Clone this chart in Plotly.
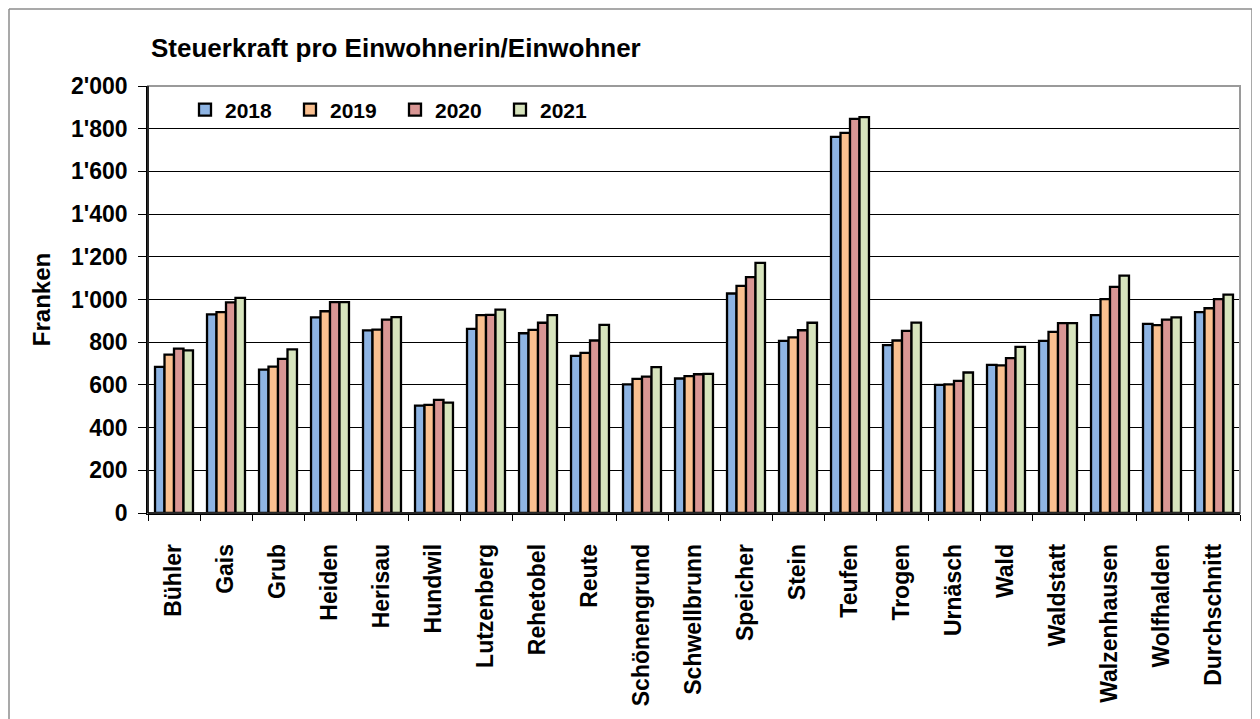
import plotly.graph_objects as go

gemeinden = ["Bühler", "Gais", "Grub", "Heiden", "Herisau", "Hundwil", "Lutzenberg",
             "Rehetobel", "Reute", "Schönengrund", "Schwellbrunn", "Speicher", "Stein",
             "Teufen", "Trogen", "Urnäsch", "Wald", "Waldstatt", "Walzenhausen",
             "Wolfhalden", "Durchschnitt"]

v2018 = [684, 930, 672, 916, 855, 503, 862, 842, 736, 602, 630, 1028, 806, 1762, 786, 600, 694, 806, 927, 886, 941]
v2019 = [742, 941, 686, 945, 859, 506, 927, 858, 750, 628, 641, 1064, 823, 1780, 808, 602, 691, 848, 1002, 880, 959]
v2020 = [770, 987, 722, 988, 906, 530, 928, 891, 808, 639, 650, 1105, 856, 1846, 853, 619, 725, 889, 1059, 906, 1002]
v2021 = [762, 1008, 766, 988, 917, 517, 953, 927, 881, 683, 652, 1172, 891, 1854, 892, 658, 778, 889, 1112, 916, 1023]

jahre = ["2018", "2019", "2020", "2021"]
farben = ["#8EB4E3", "#FAC090", "#D99694", "#D7E4BD"]
serien = [v2018, v2019, v2020, v2021]

y_ticks = [0, 200, 400, 600, 800, 1000, 1200, 1400, 1600, 1800, 2000]

FONT = "Liberation Sans, Arial, sans-serif"

fig = go.Figure()
for jahr, farbe, werte in zip(jahre, farben, serien):
    fig.add_trace(go.Bar(
        x=gemeinden, y=werte, name=jahr,
        marker=dict(color=farbe, line=dict(color="black", width=2.3)),
    ))

# page body has an 8px margin: work in window pixels and subtract it
OFF = 8
W, H = 1250, 711
L = 148 - OFF
T = 86 - OFF
R = W - (1240 - OFF)
B = H - (513 - OFF)
pw = W - L - R
ph = H - T - B

def px_x(p):
    return (p - OFF - L) / pw

def px_y(p):
    return (H - B - (p - OFF)) / ph

fig.update_layout(
    width=W, height=H,
    margin=dict(l=L, r=R, t=T, b=B, pad=0),
    paper_bgcolor="white", plot_bgcolor="white",
    separators=".'",
    barmode="group", bargap=0.27, bargroupgap=0,
    font=dict(family=FONT, color="black", size=22, weight="bold"),
    title=dict(text="Steuerkraft pro Einwohnerin/Einwohner",
               font=dict(family=FONT, size=26, weight="bold", color="black"),
               x=px_x(151), xref="paper", xanchor="left",
               y=1 - (48 - OFF) / H, yanchor="middle"),
    legend=dict(orientation="h", x=px_x(185), xanchor="left",
                y=px_y(110), yanchor="middle",
                font=dict(family=FONT, size=21, weight="bold"),
                entrywidth=60, itemwidth=30, bgcolor="rgba(0,0,0,0)",
                tracegroupgap=0),
    xaxis=dict(
        type="category", tickangle=-90, tickson="boundaries",
        ticks="outside", ticklen=6, tickcolor="black", tickwidth=1,
        showline=True, linecolor="black", linewidth=1.5,
        tickfont=dict(family=FONT, size=23, weight="bold"),
        ticklabelstandoff=20,
        showgrid=False, fixedrange=True,
    ),
    yaxis=dict(
        range=[0, 2000], tickvals=y_ticks, tickformat=",d",
        ticks="outside", ticklen=8, tickcolor="black", tickwidth=1,
        showline=True, linecolor="black", linewidth=1.5,
        showgrid=True, gridcolor="black", gridwidth=1,
        tickfont=dict(family=FONT, size=23, weight="bold"),
        ticklabelstandoff=6,
        title=dict(text="Franken", font=dict(family=FONT, size=24, weight="bold"),
                   standoff=14),
        zeroline=False, fixedrange=True,
    ),
    shapes=[
        dict(type="rect", xref="paper", yref="paper", x0=0, x1=1, y0=0, y1=1,
             line=dict(color="#9A9A9A", width=2), layer="above"),
        dict(type="line", xref="paper", yref="paper", x0=0, x1=0, y0=0, y1=1,
             line=dict(color="black", width=1.5), layer="above"),
        dict(type="line", xref="paper", yref="paper", x0=0, x1=1, y0=0, y1=0,
             line=dict(color="black", width=1.5), layer="above"),
        # outer chart frame (left, top, right edges)
        dict(type="line", xref="paper", yref="paper",
             x0=px_x(9), x1=px_x(9), y0=px_y(760), y1=px_y(9),
             line=dict(color="#8C8C8C", width=1.5), layer="above"),
        dict(type="line", xref="paper", yref="paper",
             x0=px_x(9), x1=px_x(1252), y0=px_y(9), y1=px_y(9),
             line=dict(color="#8C8C8C", width=1.5), layer="above"),
        dict(type="line", xref="paper", yref="paper",
             x0=px_x(1252), x1=px_x(1252), y0=px_y(760), y1=px_y(9),
             line=dict(color="#8C8C8C", width=1.5), layer="above"),
    ],
)

fig.write_html("out.html", config={"displayModeBar": False})
